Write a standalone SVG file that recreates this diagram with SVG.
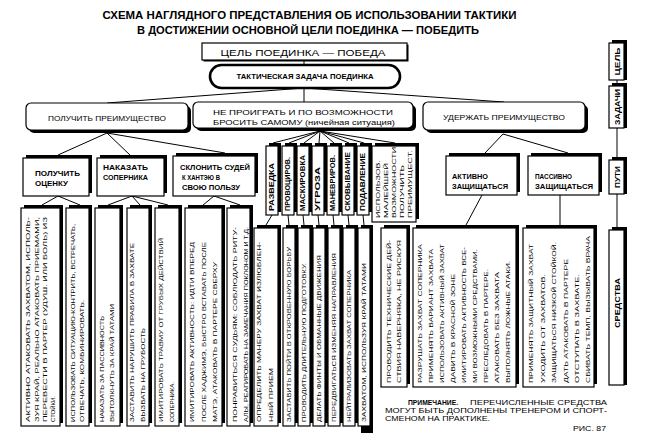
<svg xmlns="http://www.w3.org/2000/svg" width="653" height="446" viewBox="0 0 653 446">
<style>
.bx{fill:#fff;stroke:#000;stroke-width:1.2}
.sh{fill:#000}
.ln{stroke:#000;stroke-width:1;fill:none}
text{font-family:"Liberation Sans",Arial,sans-serif;fill:#000}
.ti{font-size:10px;font-weight:bold}
.h{font-size:7.5px}
.l3{font-size:7px;font-weight:bold}
.v{font-size:6px}
.vn{font-size:6.5px;font-weight:bold}
.rc{font-size:7px;font-weight:bold}
.nt{font-size:7px}
</style>
<rect width="653" height="446" fill="#fff"/>
<g id="title">
<text class="ti" x="309.5" y="19" text-anchor="middle" textLength="414" lengthAdjust="spacingAndGlyphs">СХЕМА НАГЛЯДНОГО ПРЕДСТАВЛЕНИЯ ОБ ИСПОЛЬЗОВАНИИ ТАКТИКИ</text>
<text class="ti" x="308" y="34" text-anchor="middle" textLength="342" lengthAdjust="spacingAndGlyphs">В ДОСТИЖЕНИИ ОСНОВНОЙ ЦЕЛИ ПОЕДИНКА — ПОБЕДИТЬ</text>
</g>
<g id="connectors">
<path class="ln" d="M304 60V65M304 88L107 103M304 88V102M304 88L504 102"/>
<path class="ln" d="M107 133L58 155M107 133L130 155M107 133L225 153"/>
<path class="ln" d="M320 131L273 143M320 131L289 143M320 131L304 143M320 131L319 143M320 131L334 143M320 131L349 143M320 131L364 143M320 131L395 143"/>
<path class="ln" d="M503 134L485 153M503 134L568 153"/>
<path class="ln" d="M58 196L42 205M58 196L80 205M132 196L108 205M132 196L140 205M132 196L168 205M214 196L203 205M214 196L240 205"/>
<path class="ln" d="M272 215L266 225M288 215L289 225M303 215L304 225M318 215L319 225M333 215L334 225M348 215L349 225M363 215L364 225"/>
<path class="ln" d="M482 195L466 225M560 195V225"/>
<path class="ln" d="M617 80V86M617 128V157M617 194V227"/>
</g>
<g id="goal">
<rect x="203.5" y="44.5" width="205" height="17" class="sh"/>
<rect x="202" y="43" width="205" height="17" class="bx"/>
<text class="h" x="303" y="55.5" text-anchor="middle" textLength="165" lengthAdjust="spacingAndGlyphs" style="font-size:8.5px">ЦЕЛЬ ПОЕДИНКА — ПОБЕДА</text>
</g>
<g id="task">
<rect x="210" y="65" width="190" height="23" rx="11.5" fill="#fff" stroke="#000" stroke-width="2.6"/>
<text x="305" y="79" text-anchor="middle" textLength="137" lengthAdjust="spacingAndGlyphs" style="font-size:6.5px;font-weight:bold">ТАКТИЧЕСКАЯ ЗАДАЧА ПОЕДИНКА</text>
</g>
<g id="gain">
<rect x="29" y="106" width="162" height="27" rx="5" class="sh"/>
<rect x="26" y="103" width="162" height="27" rx="5" class="bx"/>
<text class="h" x="107" y="121" text-anchor="middle" textLength="118" lengthAdjust="spacingAndGlyphs">ПОЛУЧИТЬ ПРЕИМУЩЕСТВО</text>
</g>
<g id="draw">
<rect x="196" y="105" width="220" height="26" rx="5" class="sh"/>
<rect x="193" y="102" width="220" height="26" rx="5" class="bx"/>
<text class="h" x="303" y="114.5" text-anchor="middle" textLength="180" lengthAdjust="spacingAndGlyphs">НЕ ПРОИГРАТЬ И ПО ВОЗМОЖНОСТИ</text>
<text class="h" x="304" y="125" text-anchor="middle" textLength="182" lengthAdjust="spacingAndGlyphs">БРОСИТЬ САМОМУ (ничейная ситуация)</text>
</g>
<g id="keep">
<rect x="426" y="105" width="162" height="28" rx="5" class="sh"/>
<rect x="423" y="102" width="162" height="28" rx="5" class="bx"/>
<text class="h" x="504" y="120" text-anchor="middle" textLength="122" lengthAdjust="spacingAndGlyphs">УДЕРЖАТЬ ПРЕИМУЩЕСТВО</text>
</g>
<g id="score">
<rect x="26" y="155" width="66" height="38" class="sh"/>
<rect x="23" y="158" width="66" height="38" class="bx"/>
<text class="l3" x="35" y="176" textLength="45" lengthAdjust="spacingAndGlyphs">ПОЛУЧИТЬ</text>
<text class="l3" x="35" y="186" textLength="33" lengthAdjust="spacingAndGlyphs">ОЦЕНКУ</text>
</g>
<g id="punish">
<rect x="100" y="155" width="67" height="38" class="sh"/>
<rect x="97" y="158" width="67" height="38" class="bx"/>
<text class="l3" x="103" y="170" textLength="45" lengthAdjust="spacingAndGlyphs">НАКАЗАТЬ</text>
<text class="l3" x="103" y="180" textLength="45" lengthAdjust="spacingAndGlyphs">СОПЕРНИКА</text>
</g>
<g id="judges">
<rect x="176" y="153" width="82" height="40" class="sh"/>
<rect x="173" y="156" width="82" height="40" class="bx"/>
<text class="l3" x="180" y="170" textLength="70" lengthAdjust="spacingAndGlyphs">СКЛОНИТЬ СУДЕЙ</text>
<text class="l3" x="182" y="180" textLength="38" lengthAdjust="spacingAndGlyphs">К ХАНТЭЮ В</text>
<text class="l3" x="182" y="190" textLength="58" lengthAdjust="spacingAndGlyphs">СВОЮ ПОЛЬЗУ</text>
</g>
<g id="active">
<rect x="449" y="153" width="71" height="39" class="sh"/>
<rect x="446" y="156" width="71" height="39" class="bx"/>
<text class="l3" x="452" y="179" textLength="36" lengthAdjust="spacingAndGlyphs">АКТИВНО</text>
<text class="l3" x="452" y="189" textLength="56" lengthAdjust="spacingAndGlyphs">ЗАЩИЩАТЬСЯ</text>
</g>
<g id="passive">
<rect x="531" y="153" width="71" height="39" class="sh"/>
<rect x="528" y="156" width="71" height="39" class="bx"/>
<text class="l3" x="535" y="179" textLength="37" lengthAdjust="spacingAndGlyphs">ПАССИВНО</text>
<text class="l3" x="535" y="189" textLength="58" lengthAdjust="spacingAndGlyphs">ЗАЩИЩАТЬСЯ</text>
</g>
<g id="tactics">
<rect x="269" y="143" width="12" height="69" class="sh"/><rect x="266" y="146" width="12" height="69" class="bx"/>
<text class="vn" transform="translate(274.3,211) rotate(-90)" textLength="48" lengthAdjust="spacingAndGlyphs">РАЗВЕДКА</text>
<rect x="285" y="143" width="12" height="69" class="sh"/><rect x="282" y="146" width="12" height="69" class="bx"/>
<text class="vn" transform="translate(290.3,211) rotate(-90)" textLength="54" lengthAdjust="spacingAndGlyphs">ПРОВОЦИРОВ.</text>
<rect x="300" y="143" width="12" height="69" class="sh"/><rect x="297" y="146" width="12" height="69" class="bx"/>
<text class="vn" transform="translate(305.3,211) rotate(-90)" textLength="56" lengthAdjust="spacingAndGlyphs">МАСКИРОВКА</text>
<rect x="315" y="143" width="12" height="69" class="sh"/><rect x="312" y="146" width="12" height="69" class="bx"/>
<text class="vn" transform="translate(320.3,211) rotate(-90)" textLength="44" lengthAdjust="spacingAndGlyphs">УГРОЗА</text>
<rect x="330" y="143" width="12" height="69" class="sh"/><rect x="327" y="146" width="12" height="69" class="bx"/>
<text class="vn" transform="translate(335.3,211) rotate(-90)" textLength="56" lengthAdjust="spacingAndGlyphs">МАНЕВРИРОВ.</text>
<rect x="345" y="143" width="12" height="69" class="sh"/><rect x="342" y="146" width="12" height="69" class="bx"/>
<text class="vn" transform="translate(350.3,211) rotate(-90)" textLength="59" lengthAdjust="spacingAndGlyphs">СКОВЫВАНИЕ</text>
<rect x="360" y="143" width="12" height="69" class="sh"/><rect x="357" y="146" width="12" height="69" class="bx"/>
<text class="vn" transform="translate(365.3,211) rotate(-90)" textLength="58" lengthAdjust="spacingAndGlyphs">ПОДАВЛЕНИЕ</text>
<rect x="375" y="143" width="44" height="76" class="sh"/><rect x="372" y="146" width="44" height="76" class="bx"/>
<text class="v" transform="translate(380.2,218) rotate(-90)" textLength="58" lengthAdjust="spacingAndGlyphs">ИСПОЛЬЗОВ.</text>
<text class="v" transform="translate(388.2,218) rotate(-90)" textLength="55" lengthAdjust="spacingAndGlyphs">МАЛЕЙШЕЙ</text>
<text class="v" transform="translate(396.2,218) rotate(-90)" textLength="71" lengthAdjust="spacingAndGlyphs">ВОЗМОЖНОСТИ</text>
<text class="v" transform="translate(404.2,218) rotate(-90)" textLength="53" lengthAdjust="spacingAndGlyphs">ПОЛУЧИТЬ</text>
<text class="v" transform="translate(412.2,218) rotate(-90)" textLength="68" lengthAdjust="spacingAndGlyphs">ПРЕИМУЩЕСТ.</text>
</g>
<g id="means-score">
<rect x="24" y="205" width="39" height="218" class="sh"/><rect x="21" y="208" width="39" height="218" class="bx"/>
<text class="v" transform="translate(30.2,422) rotate(-90)" textLength="205" lengthAdjust="spacingAndGlyphs">АКТИВНО АТАКОВАТЬ ЗАХВАТОМ, ИСПОЛЬ-</text>
<text class="v" transform="translate(39.2,422) rotate(-90)" textLength="205" lengthAdjust="spacingAndGlyphs">ЗУЯ КРАЙ, РЕАЛЬНО АТАКОВАТЬ ПРИЕМАМИ,</text>
<text class="v" transform="translate(47.2,422) rotate(-90)" textLength="205" lengthAdjust="spacingAndGlyphs">ПЕРЕВЕСТИ В ПАРТЕР (УДУШ. ИЛИ БОЛЬ) ИЗ</text>
<text class="v" transform="translate(55.2,422) rotate(-90)" textLength="26" lengthAdjust="spacingAndGlyphs">СТОЙКИ.</text>
<rect x="69" y="205" width="23" height="218" class="sh"/><rect x="66" y="208" width="23" height="218" class="bx"/>
<text class="v" transform="translate(75.2,422) rotate(-90)" textLength="198" lengthAdjust="spacingAndGlyphs">ИСПОЛЬЗОВАТЬ СИТУАЦИЮ-КОНТРИТЬ, ВСТРЕЧАТЬ,</text>
<text class="v" transform="translate(84.2,422) rotate(-90)" textLength="122" lengthAdjust="spacingAndGlyphs">ОТВЕЧАТЬ, КОМБИНИРОВАТЬ.</text>
</g>
<g id="means-punish">
<rect x="98" y="205" width="25" height="218" class="sh"/><rect x="95" y="208" width="25" height="218" class="bx"/>
<text class="v" transform="translate(104.2,422) rotate(-90)" textLength="106" lengthAdjust="spacingAndGlyphs">НАКАЗАТЬ ЗА ПАССИВНОСТЬ</text>
<text class="v" transform="translate(114.2,422) rotate(-90)" textLength="118" lengthAdjust="spacingAndGlyphs">ВЫТОЛКНУТЬ ЗА КРАЙ ТАТАМИ</text>
<rect x="130" y="205" width="22" height="218" class="sh"/><rect x="127" y="208" width="22" height="218" class="bx"/>
<text class="v" transform="translate(134.2,422) rotate(-90)" textLength="179" lengthAdjust="spacingAndGlyphs">ЗАСТАВИТЬ НАРУШИТЬ ПРАВИЛА В ЗАХВАТЕ</text>
<text class="v" transform="translate(145.2,422) rotate(-90)" textLength="94" lengthAdjust="spacingAndGlyphs">ВЫЗВАТЬ НА ГРУБОСТЬ</text>
<rect x="158" y="205" width="24" height="218" class="sh"/><rect x="155" y="208" width="24" height="218" class="bx"/>
<text class="v" transform="translate(163.2,422) rotate(-90)" textLength="184" lengthAdjust="spacingAndGlyphs">ИМИТИРОВАТЬ ТРАВМУ ОТ ГРУБЫХ ДЕЙСТВИЙ</text>
<text class="v" transform="translate(174.2,422) rotate(-90)" textLength="40" lengthAdjust="spacingAndGlyphs">СОПЕРНИКА.</text>
</g>
<g id="means-judges">
<rect x="188" y="205" width="37" height="218" class="sh"/><rect x="185" y="208" width="37" height="218" class="bx"/>
<text class="v" transform="translate(194.2,422) rotate(-90)" textLength="180" lengthAdjust="spacingAndGlyphs">ИМИТИРОВАТЬ АКТИВНОСТЬ: ИДТИ ВПЕРЕД</text>
<text class="v" transform="translate(206.2,422) rotate(-90)" textLength="180" lengthAdjust="spacingAndGlyphs">ПОСЛЕ ХАДЖИМЭ, БЫСТРО ВСТАВАТЬ ПОСЛЕ</text>
<text class="v" transform="translate(217.2,422) rotate(-90)" textLength="160" lengthAdjust="spacingAndGlyphs">МАТЭ, АТАКОВАТЬ В ПАРТЕРЕ СВЕРХУ</text>
<rect x="230" y="205" width="23" height="218" class="sh"/><rect x="227" y="208" width="23" height="218" class="bx"/>
<text class="v" transform="translate(237.2,422) rotate(-90)" textLength="195" lengthAdjust="spacingAndGlyphs">ПОНРАВИТЬСЯ СУДЬЯМ: СОБЛЮДАТЬ РИТУ-</text>
<text class="v" transform="translate(248.2,422) rotate(-90)" textLength="195" lengthAdjust="spacingAndGlyphs">АЛЫ, РЕАГИРОВАТЬ НА ЗАМЕЧАНИЯ ПОКЛОНОМ И Т.Д.</text>
</g>
<g id="means-draw">
<rect x="257" y="225" width="24" height="198" class="sh"/><rect x="254" y="228" width="24" height="198" class="bx"/>
<text class="v" transform="translate(261.2,422) rotate(-90)" textLength="180" lengthAdjust="spacingAndGlyphs">ОПРЕДЕЛИТЬ МАНЕРУ ЗАХВАТ ИЗЛЮБЛЕН-</text>
<text class="v" transform="translate(273.2,422) rotate(-90)" textLength="54" lengthAdjust="spacingAndGlyphs">НЫЙ ПРИЕМ</text>
<rect x="286" y="225" width="12" height="198" class="sh"/><rect x="283" y="228" width="12" height="198" class="bx"/>
<text class="v" transform="translate(291.2,422) rotate(-90)" textLength="175" lengthAdjust="spacingAndGlyphs">ЗАСТАВИТЬ ПОЙТИ В ОТКРОВЕННУЮ БОРЬБУ</text>
<rect x="301" y="225" width="12" height="198" class="sh"/><rect x="298" y="228" width="12" height="198" class="bx"/>
<text class="v" transform="translate(306.2,422) rotate(-90)" textLength="159" lengthAdjust="spacingAndGlyphs">ПРОВОДИТЬ ДЛИТЕЛЬНУЮ ПОДГОТОВКУ.</text>
<rect x="316" y="225" width="12" height="198" class="sh"/><rect x="313" y="228" width="12" height="198" class="bx"/>
<text class="v" transform="translate(321.2,422) rotate(-90)" textLength="167" lengthAdjust="spacingAndGlyphs">ДЕЛАТЬ ФИНТЫ И ОБМАННЫЕ ДВИЖЕНИЯ</text>
<rect x="331" y="225" width="12" height="198" class="sh"/><rect x="328" y="228" width="12" height="198" class="bx"/>
<text class="v" transform="translate(336.2,422) rotate(-90)" textLength="169" lengthAdjust="spacingAndGlyphs">ПЕРЕДВИГАТЬСЯ ИЗМЕНЯЯ НАПРАВЛЕНИЯ</text>
<rect x="346" y="225" width="12" height="198" class="sh"/><rect x="343" y="228" width="12" height="198" class="bx"/>
<text class="v" transform="translate(351.2,422) rotate(-90)" textLength="152" lengthAdjust="spacingAndGlyphs">НЕЙТРАЛИЗОВАТЬ ЗАХВАТ СОПЕРНИКА</text>
<rect x="361" y="225" width="12" height="208" class="sh"/><rect x="358" y="228" width="12" height="198" class="bx"/>
<text class="v" transform="translate(366.2,422) rotate(-90)" textLength="159" lengthAdjust="spacingAndGlyphs">ЗАХВАТОМ, ИСПОЛЬЗУЯ КРАЙ ТАТАМИ</text>
<rect x="384" y="225" width="26" height="159" class="sh"/><rect x="381" y="228" width="26" height="159" class="bx"/>
<text class="v" transform="translate(391.2,383) rotate(-90)" textLength="143" lengthAdjust="spacingAndGlyphs">ПРОВОДИТЬ ТЕХНИЧЕСКИЕ ДЕЙ-</text>
<text class="v" transform="translate(401.2,383) rotate(-90)" textLength="143" lengthAdjust="spacingAndGlyphs">СТВИЯ НАВЕРНЯКА, НЕ РИСКУЯ</text>
</g>
<g id="means-active">
<rect x="416" y="225" width="103" height="159" class="sh"/><rect x="413" y="228" width="103" height="159" class="bx"/>
<text class="v" transform="translate(422.2,383) rotate(-90)" textLength="139" lengthAdjust="spacingAndGlyphs">РАЗРУШАТЬ ЗАХВАТ СОПЕРНИКА</text>
<text class="v" transform="translate(433.2,383) rotate(-90)" textLength="134" lengthAdjust="spacingAndGlyphs">ПРИМЕНЯТЬ ВАРИАНТ ЗАХВАТА</text>
<text class="v" transform="translate(444.2,383) rotate(-90)" textLength="139" lengthAdjust="spacingAndGlyphs">ИСПОЛЬЗОВАТЬ АКТИВНЫЙ ЗАХВАТ</text>
<text class="v" transform="translate(455.2,383) rotate(-90)" textLength="109" lengthAdjust="spacingAndGlyphs">ДАВИТЬ В КРАСНОЙ ЗОНЕ</text>
<text class="v" transform="translate(466.2,383) rotate(-90)" textLength="136" lengthAdjust="spacingAndGlyphs">ИМИТИРОВАТЬ АКТИВНОСТЬ ВСЕ-</text>
<text class="v" transform="translate(477.2,383) rotate(-90)" textLength="134" lengthAdjust="spacingAndGlyphs">МИ ВОЗМОЖНЫМИ СРЕДСТВАМИ.</text>
<text class="v" transform="translate(488.2,383) rotate(-90)" textLength="114" lengthAdjust="spacingAndGlyphs">ПРЕСЛЕДОВАТЬ В ПАРТЕРЕ.</text>
<text class="v" transform="translate(499.2,383) rotate(-90)" textLength="111" lengthAdjust="spacingAndGlyphs">АТАКОВАТЬ БЕЗ ЗАХВАТА</text>
<text class="v" transform="translate(510.2,383) rotate(-90)" textLength="122" lengthAdjust="spacingAndGlyphs">ВЫПОЛНЯТЬ ЛОЖНЫЕ АТАКИ.</text>
</g>
<g id="means-passive">
<rect x="526" y="225" width="71" height="159" class="sh"/><rect x="523" y="228" width="71" height="159" class="bx"/>
<text class="v" transform="translate(533.2,383) rotate(-90)" textLength="139" lengthAdjust="spacingAndGlyphs">ПРИМЕНЯТЬ ЗАЩИТНЫЙ ЗАХВАТ</text>
<text class="v" transform="translate(545.2,383) rotate(-90)" textLength="109" lengthAdjust="spacingAndGlyphs">УХОДИТЬ ОТ ЗАХВАТОВ.</text>
<text class="v" transform="translate(556.2,383) rotate(-90)" textLength="141" lengthAdjust="spacingAndGlyphs">ЗАЩИЩАТЬСЯ НИЗКОЙ СТОЙКОЙ.</text>
<text class="v" transform="translate(568.2,383) rotate(-90)" textLength="124" lengthAdjust="spacingAndGlyphs">ДАТЬ АТАКОВАТЬ В ПАРТЕРЕ</text>
<text class="v" transform="translate(579.2,383) rotate(-90)" textLength="109" lengthAdjust="spacingAndGlyphs">ОТСТУПАТЬ В ЗАХВАТЕ.</text>
<text class="v" transform="translate(590.2,383) rotate(-90)" textLength="147" lengthAdjust="spacingAndGlyphs">СБИВАТЬ ТЕМП, ВЫЗЫВАТЬ ВРАЧА</text>
</g>
<g id="legend-goal">
<rect x="612" y="40" width="15" height="40" class="sh"/><rect x="609" y="43" width="15" height="37" class="bx"/>
<text class="rc" transform="translate(619.5,61.5) rotate(-90)" text-anchor="middle" textLength="28" lengthAdjust="spacingAndGlyphs">ЦЕЛЬ</text>
</g>
<g id="legend-tasks">
<rect x="612" y="83" width="15" height="45" class="sh"/><rect x="609" y="86" width="15" height="42" class="bx"/>
<text class="rc" transform="translate(619.5,107) rotate(-90)" text-anchor="middle" textLength="36" lengthAdjust="spacingAndGlyphs">ЗАДАЧИ</text>
</g>
<g id="legend-ways">
<rect x="612" y="157" width="15" height="37" class="sh"/><rect x="609" y="160" width="15" height="34" class="bx"/>
<text class="rc" transform="translate(619.5,177) rotate(-90)" text-anchor="middle" textLength="22" lengthAdjust="spacingAndGlyphs">ПУТИ</text>
</g>
<g id="legend-means">
<rect x="612" y="227" width="15" height="158" class="sh"/><rect x="609" y="230" width="15" height="155" class="bx"/>
<text class="rc" transform="translate(619.8,303) rotate(-90)" text-anchor="middle" textLength="50" lengthAdjust="spacingAndGlyphs" style="font-size:7.5px">СРЕДСТВА</text>
</g>
<g id="note">
<text class="nt" x="408" y="405" textLength="50" lengthAdjust="spacingAndGlyphs" style="font-weight:bold">ПРИМЕЧАНИЕ.</text>
<text class="nt" x="470" y="405" textLength="137" lengthAdjust="spacingAndGlyphs">ПЕРЕЧИСЛЕННЫЕ СРЕДСТВА</text>
<text class="nt" x="385" y="413" textLength="222" lengthAdjust="spacingAndGlyphs">МОГУТ БЫТЬ ДОПОЛНЕНЫ ТРЕНЕРОМ И СПОРТ-</text>
<text class="nt" x="385" y="421" textLength="105" lengthAdjust="spacingAndGlyphs">СМЕНОМ НА ПРАКТИКЕ.</text>
<text class="nt" x="573" y="431" textLength="33" lengthAdjust="spacingAndGlyphs" style="font-size:6.5px">РИС. 87</text>
</g>
</svg>
